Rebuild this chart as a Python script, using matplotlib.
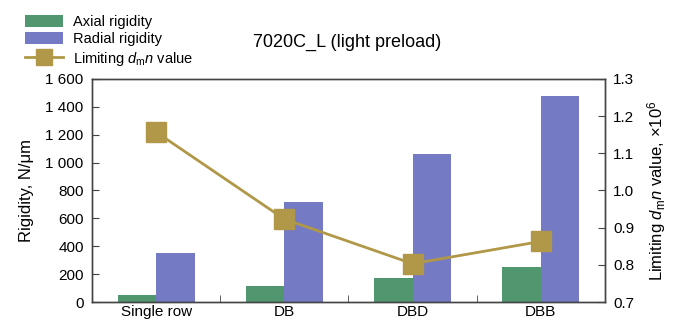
import matplotlib.pyplot as plt
import numpy as np

plt.rcParams['font.family'] = ['Liberation Sans', 'DejaVu Sans']
plt.rcParams['mathtext.fontset'] = 'custom'
plt.rcParams['mathtext.rm'] = 'Liberation Sans'
plt.rcParams['mathtext.it'] = 'Liberation Sans:italic'

# data
categories = ['Single row', 'DB', 'DBD', 'DBB']
axial = [50, 116, 174, 253]
radial = [355, 717, 1064, 1477]
dmn = [1.157, 0.923, 0.803, 0.863]
left_ticks = [0, 200, 400, 600, 800, 1000, 1200, 1400, 1600]
left_labels = ['0', '200', '400', '600', '800', '1 000', '1 200', '1 400', '1 600']
right_ticks = [0.7, 0.8, 0.9, 1.0, 1.1, 1.2, 1.3]

green = '#50966E'
blue = '#747AC4'
gold = '#B09848'
spine_c = '#444444'

fig = plt.figure(figsize=(6.74, 3.22), dpi=100)
ax = fig.add_axes([0.1365, 0.062, 0.761, 0.693])
ax2 = ax.twinx()

x = np.arange(len(categories))
w = 0.3
b1 = ax.bar(x - w / 2, axial, w, color=green, label='Axial rigidity', zorder=2)
b2 = ax.bar(x + w / 2, radial, w, color=blue, label='Radial rigidity', zorder=2)
l1, = ax2.plot(x, dmn, color=gold, lw=2, marker='s', ms=14,
               label=r'Limiting $\mathit{d}_{\mathrm{m}}\mathit{n}$ value')

ax.set_xlim(-0.5, len(categories) - 0.5)
ax.set_ylim(0, 1600)
ax2.set_ylim(0.7, 1.3)

ax.set_yticks(left_ticks)
ax.set_yticklabels(left_labels)
ax2.set_yticks(right_ticks)
ax2.set_yticklabels(['%.1f' % t for t in right_ticks])

# category labels at centres, ticks between categories
ax.set_xticks(x)
ax.set_xticklabels(categories)
ax.tick_params(axis='x', length=0, labelsize=11, pad=2)
ax.set_xticks(x[:-1] + 0.5, minor=True)
ax.tick_params(axis='x', which='minor', direction='in', length=5, color=spine_c)
ax.tick_params(axis='y', direction='in', length=5, labelsize=11, color=spine_c, pad=6)
ax2.tick_params(axis='y', direction='in', length=5, labelsize=11, color=spine_c, pad=6)

for a in (ax, ax2):
    for s in a.spines.values():
        s.set_color(spine_c)
        s.set_linewidth(1)

ax.set_ylabel('Rigidity, N/μm', fontsize=12, labelpad=8)
ax2.set_ylabel(r'Limiting $\mathit{d}_{\mathrm{m}}\mathit{n}$ value, ×10$^{6}$',
               fontsize=12, labelpad=8)

fig.text(0.515, 0.868, '7020C_L (light preload)', fontsize=13, ha='center', va='center')

fig.legend([b1, b2, l1], [b1.get_label(), b2.get_label(), l1.get_label()],
           loc='upper left', bbox_to_anchor=(0.022, 0.985), frameon=False,
           fontsize=10.5, handlelength=2.6, handleheight=0.9, markerscale=0.8,
           labelspacing=0.22, borderpad=0.2, handletextpad=0.7)

fig.savefig('out.png', dpi=100)
